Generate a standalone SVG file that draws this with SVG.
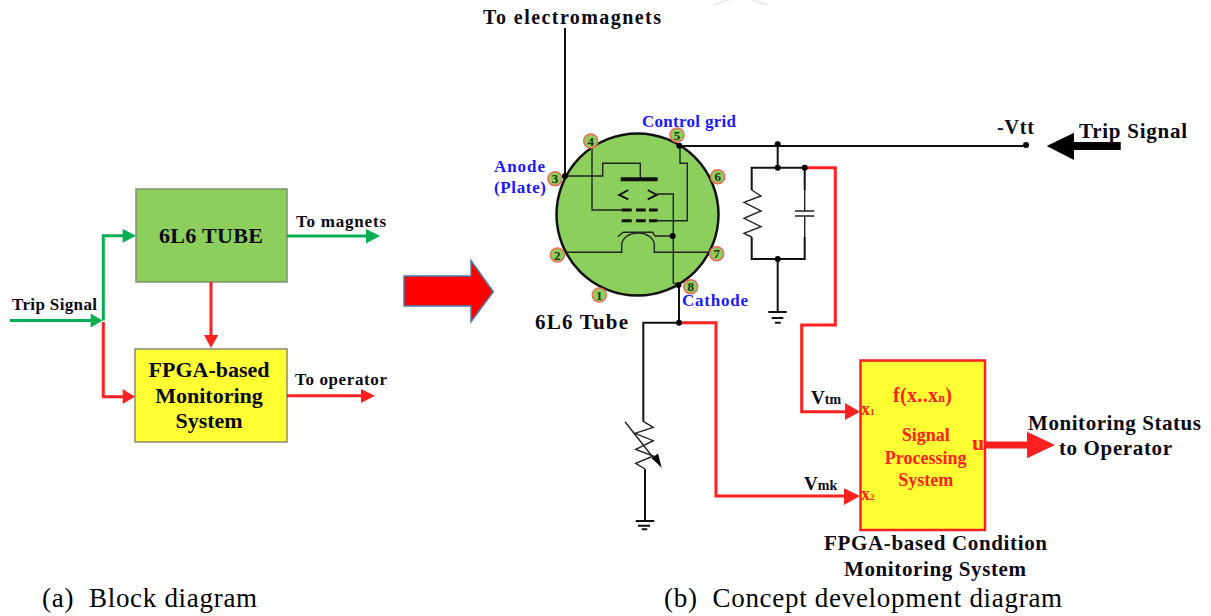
<svg xmlns="http://www.w3.org/2000/svg" width="1211" height="616" viewBox="0 0 1211 616">
<style>
text{font-family:"Liberation Serif","Times New Roman",serif;font-weight:bold;fill:#0a0a14}
.c{text-anchor:middle}
.blue{fill:#1a1aff}
.red{fill:#ff2020}
.cap{font-weight:normal;font-size:27px;fill:#000;letter-spacing:.7px;white-space:pre}
.pin{font-size:13px;text-anchor:middle;fill:#1c3010}
.w{fill:none;stroke:#111;stroke-width:2;stroke-linejoin:miter}
.t{fill:none;stroke:#222;stroke-width:1.400}
.g{fill:none;stroke:#00b050;stroke-width:3}
.r{fill:none;stroke:#ff2020;stroke-width:3}
.fg{fill:#00b050}
.fr{fill:#ff2020}
.d{fill:#000}
.p{fill:#8ccf5c;stroke:#f06a5a;stroke-width:1.500}
</style>
<rect width="1211" height="616" fill="#fff"/>
<g id="watermark" fill="#eeeeee"><polygon points="723,0 731,0 718,5 711,5"/><polygon points="750,0 758,0 770,5 762,5"/></g>

<g id="tube-block"><rect x="136" y="189" width="151" height="93" fill="#8ccf5c" stroke="#7d9170" stroke-width="1.500"/><text x="211" y="243" class="c" font-size="22" textLength="104">6L6 TUBE</text></g>
<g id="fpga-block"><rect x="135" y="349" width="152" height="93" fill="#ffff33" stroke="#8a8a70" stroke-width="1.500"/><text x="209" y="376.500" class="c" font-size="22">FPGA-based</text><text x="209" y="402.500" class="c" font-size="22">Monitoring</text><text x="209" y="428" class="c" font-size="22">System</text></g>
<g id="block-labels"><text x="12" y="310" font-size="17" textLength="85">Trip Signal</text><text x="296" y="227" font-size="17" textLength="90">To magnets</text><text x="295" y="385" font-size="17" textLength="92">To operator</text></g>

<g id="block-connectors">
<path class="g" d="M10 320.500H92M103.300 320.500V235.700H124"/><polygon class="fg" points="90.700,313.500 102.500,320.500 90.700,327.500"/><polygon class="fg" points="122.700,229 136,235.700 122.700,242.700"/>
<path class="g" d="M287 236H368"/><polygon class="fg" points="366,229 380,236 366,243.500"/>
<path class="r" d="M103.300 322V396.700H124"/><polygon class="fr" points="122.700,389 135,396.700 122.700,404"/>
<path class="r" d="M211 282V336"/><polygon class="fr" points="204,335 218.300,335 211,348"/>
<path class="r" d="M287 395.700H363"/><polygon class="fr" points="361,389 375,395.700 361,403"/>
</g>

<polygon id="big-arrow" points="404,276 471,276 471,260.700 493.300,291.700 471,321.700 471,306 404,306" fill="#ff0000" stroke="#4a7ba7" stroke-width="1.500"/>

<g id="tube">
<circle cx="637.500" cy="214.500" r="81" fill="#8ccf5c" stroke="#111" stroke-width="2.500"/>
<path class="t" d="M565 176H602.700V163.300H640.300V179"/>
<path d="M620.700 179.300H657.700" stroke="#111" stroke-width="4"/>
<path class="t" d="M592 146V210H622"/>
<path d="M621.700 210H631.700M636 210H645.700M649 210H657.700M621.700 220.700H631.700M636 220.700H645.700M649 220.700H657.700" stroke="#111" stroke-width="3"/>
<path class="t" d="M658 220.700H687.300V163.300H680V145"/>
<path fill="none" stroke="#111" stroke-width="2" d="M628.300 190L619.300 195L628.300 199.300M647.700 190L656.700 195L647.700 199.300"/>
<path class="t" d="M656.700 194H673.300V283L679 285"/>
<path class="t" d="M617.700 236.700L623.300 232.300H652.700L655 236H672.700"/>
<path class="t" d="M566 252.300H621.700V245A16.300 12 0 0 1 654.300 245V252.300H710"/>
<circle class="d" cx="672.700" cy="236" r="3"/>
<g id="pins">
<circle class="p" cx="590.700" cy="141" r="7"/><circle class="p" cx="677" cy="135" r="7"/><circle class="p" cx="555" cy="178.700" r="7"/><circle class="p" cx="717.700" cy="176.700" r="7"/><circle class="p" cx="557.300" cy="255" r="7"/><circle class="p" cx="716.700" cy="253.700" r="7"/><circle class="p" cx="599.300" cy="295" r="7"/><circle class="p" cx="690.700" cy="286.700" r="7"/>
<text class="pin" x="590.700" y="145.500">4</text><text class="pin" x="677" y="139.500">5</text><text class="pin" x="555" y="183">3</text><text class="pin" x="717.700" y="181">6</text><text class="pin" x="557.300" y="259.500">2</text><text class="pin" x="716.700" y="258">7</text><text class="pin" x="599.300" y="299.500">1</text><text class="pin" x="690.700" y="291">8</text>
</g>
<text x="642" y="127" font-size="17" class="blue" textLength="94">Control grid</text>
<text x="494" y="172" font-size="17" class="blue" textLength="51">Anode</text>
<text x="494" y="193" font-size="17" class="blue" textLength="52">(Plate)</text>
<text x="682" y="306" font-size="17" class="blue" textLength="66">Cathode</text>
<text x="535" y="329" font-size="21" textLength="93">6L6 Tube</text>
</g>

<g id="connectors">
<path class="w" d="M565 28V176"/>
<path class="w" d="M679.500 146H1026"/>
<path class="w" d="M777.700 146V167.700M751.700 190V167.700H804.700V190M751.700 237V259H804.700V237M777.700 259V311.700"/>
<path class="t" d="M751.700 190L761 196L744 202.300L761 211L744 218.300L761 226.700L744 233.300L751.700 237M804.700 190V211M804.700 216V237"/>
<path stroke="#222" stroke-width="1.300" d="M795 211H814.300M795 216H814.300"/>
<path class="w" d="M768.300 312H786.700"/><path class="w" d="M771.700 318H783.300M775 322.700H780.700" stroke-width="1.500"/>
<path class="w" d="M679 285V322.700H643.300V421.700"/>
<path class="t" d="M643.700 421.700L653.300 427.300L635 433.300L653.300 440.700L635.700 449.300L653.300 456L635.700 463.300L645 469"/>
<path class="w" d="M645 469V520"/>
<path class="t" d="M625 421.700L655 460"/><polygon class="d" points="661.700,467.700 651.700,458.300 658,453.500"/>
<path class="w" d="M635.700 521H654.300"/><path class="w" d="M638 525.700H650M641.700 529.300H647.300" stroke-width="1.500"/>
<path class="r" d="M679 322.700H716V496H846"/><polygon class="fr" points="844,488.300 860,496 844,505"/>
<path class="r" d="M804.700 167.700H835.300V325H801.700V411.700H847"/><polygon class="fr" points="845,403 860,411.700 845,420"/>
<circle class="d" cx="679.300" cy="145.700" r="3"/><circle class="d" cx="565" cy="176" r="3"/><circle class="d" cx="678.500" cy="285" r="3"/><circle class="d" cx="679" cy="322.700" r="3"/>
<circle class="d" cx="777.700" cy="144.300" r="3"/><circle class="d" cx="777.700" cy="167.700" r="3"/><circle class="d" cx="804.700" cy="167.700" r="3"/><circle class="d" cx="777.700" cy="259" r="3"/><circle class="d" cx="1026" cy="145" r="3"/>
<path d="M985 445H1030" stroke="#ff2020" stroke-width="7"/><polygon class="fr" points="1027,431.700 1055,445 1027,458.300"/>
<polygon class="d" points="1046.700,146 1074,132.700 1074,142 1120.700,142 1120.700,150 1074,150 1074,160"/>
</g>

<g id="spu">
<rect x="860.500" y="360.500" width="124.500" height="169.500" fill="#ffff33" stroke="#ff2020" stroke-width="2.500"/>
<text x="893" y="402" class="red" font-size="20" textLength="59">f(x..x<tspan font-size="12">n</tspan>)</text>
<text x="925.700" y="441" class="c red" font-size="18">Signal</text><text x="925.700" y="464" class="c red" font-size="18">Processing</text><text x="925.700" y="486" class="c red" font-size="18">System</text>
<text x="861" y="415" class="red" font-size="18">x<tspan font-size="9">1</tspan></text>
<text x="861" y="500" class="red" font-size="18">x<tspan font-size="9">2</tspan></text>
<text x="972" y="450" class="red" font-size="22">u</text>
</g>

<g id="labels">
<text x="483" y="24" font-size="20" textLength="178">To electromagnets</text>
<text x="997" y="134" font-size="20" textLength="37">-Vtt</text>
<text x="1079" y="138" font-size="21" textLength="108">Trip Signal</text>
<text x="811" y="404" font-size="19">V<tspan font-size="14">tm</tspan></text>
<text x="804" y="490" font-size="19">V<tspan font-size="14">mk</tspan></text>
<text x="1028" y="429.500" font-size="21" textLength="173">Monitoring Status</text>
<text x="1059" y="455" font-size="21" textLength="113">to Operator</text>
<text x="824" y="550" font-size="21" textLength="223">FPGA-based Condition</text>
<text x="844" y="576" font-size="21" textLength="182">Monitoring System</text>
<text x="42" y="607" class="cap">(a)  Block diagram</text>
<text x="664" y="607" class="cap">(b)  Concept development diagram</text>
</g>
</svg>
